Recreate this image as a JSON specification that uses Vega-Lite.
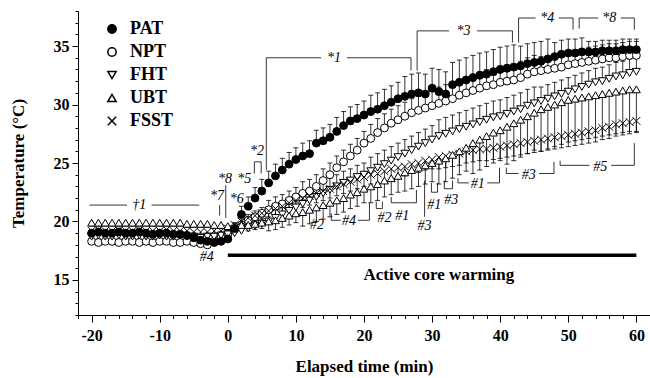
{
"$schema": "https://vega.github.io/schema/vega-lite/v6.json",
"width": 572, "height": 304,
"autosize": "none",
"padding": {"left": 78, "top": 11, "right": 0, "bottom": 63},
"background": "white",
"config": {"view": {"stroke": null}, "font": "Liberation Serif"},
"datasets": {
"m": [
{"t":-20,"s":"NPT","v":18.3,"b":18.6},{"t":-19,"s":"NPT","v":18.2,"b":18.5},{"t":-18,"s":"NPT","v":18.3,"b":18.6},{"t":-17,"s":"NPT","v":18.3,"b":18.6},{"t":-16,"s":"NPT","v":18.2,"b":18.5},{"t":-15,"s":"NPT","v":18.3,"b":18.6},{"t":-14,"s":"NPT","v":18.3,"b":18.6},{"t":-13,"s":"NPT","v":18.2,"b":18.5},{"t":-12,"s":"NPT","v":18.3,"b":18.6},{"t":-11,"s":"NPT","v":18.2,"b":18.5},{"t":-10,"s":"NPT","v":18.3,"b":18.6},{"t":-9,"s":"NPT","v":18.3,"b":18.6},{"t":-8,"s":"NPT","v":18.2,"b":18.5},{"t":-7,"s":"NPT","v":18.2,"b":18.5},{"t":-6,"s":"NPT","v":18.3,"b":18.6},{"t":-5,"s":"NPT","v":18.2,"b":18.5},{"t":-4,"s":"NPT","v":18.1,"b":18.4},{"t":-3,"s":"NPT","v":18.0,"b":18.3},{"t":-2,"s":"NPT","v":18.3,"b":18.6},{"t":-1,"s":"NPT","v":18.6,"b":18.9},{"t":0,"s":"NPT","v":18.9,"b":19.2},
{"t":1,"s":"NPT","v":19.3,"b":19.8},{"t":2,"s":"NPT","v":19.7,"b":20.2},{"t":3,"s":"NPT","v":20.1,"b":20.6},{"t":4,"s":"NPT","v":20.4,"b":20.9},{"t":5,"s":"NPT","v":20.7,"b":21.2},{"t":6,"s":"NPT","v":21.0,"b":21.8},{"t":7,"s":"NPT","v":21.3,"b":22.1},{"t":8,"s":"NPT","v":21.5,"b":22.3},{"t":9,"s":"NPT","v":21.8,"b":22.6},{"t":10,"s":"NPT","v":22.1,"b":22.9},
{"t":11,"s":"NPT","v":22.4,"b":23.4},{"t":12,"s":"NPT","v":22.6,"b":23.6},{"t":13,"s":"NPT","v":23.0,"b":24.0},{"t":14,"s":"NPT","v":23.5,"b":24.5},{"t":15,"s":"NPT","v":24.0,"b":25.0},{"t":16,"s":"NPT","v":24.6,"b":25.6},{"t":17,"s":"NPT","v":25.1,"b":26.1},{"t":18,"s":"NPT","v":25.6,"b":26.6},{"t":19,"s":"NPT","v":26.1,"b":27.1},{"t":20,"s":"NPT","v":26.7,"b":27.7},
{"t":21,"s":"NPT","v":27.1,"b":28.3},{"t":22,"s":"NPT","v":27.6,"b":28.8},{"t":23,"s":"NPT","v":28.0,"b":29.2},{"t":24,"s":"NPT","v":28.4,"b":29.6},{"t":25,"s":"NPT","v":28.7,"b":29.9},{"t":26,"s":"NPT","v":29.0,"b":30.2},{"t":27,"s":"NPT","v":29.3,"b":30.5},{"t":28,"s":"NPT","v":29.5,"b":30.7},{"t":29,"s":"NPT","v":29.7,"b":30.9},{"t":30,"s":"NPT","v":29.9,"b":31.1},
{"t":31,"s":"NPT","v":30.1,"b":31.5},{"t":32,"s":"NPT","v":30.3,"b":31.7},{"t":33,"s":"NPT","v":30.5,"b":31.9},{"t":34,"s":"NPT","v":30.8,"b":32.2},{"t":35,"s":"NPT","v":31.0,"b":32.4},{"t":36,"s":"NPT","v":31.2,"b":32.6},{"t":37,"s":"NPT","v":31.4,"b":32.8},{"t":38,"s":"NPT","v":31.6,"b":33.0},{"t":39,"s":"NPT","v":31.7,"b":33.1},{"t":40,"s":"NPT","v":31.9,"b":33.3},
{"t":41,"s":"NPT","v":32.0,"b":33.4},{"t":42,"s":"NPT","v":32.1,"b":33.5},{"t":43,"s":"NPT","v":32.3,"b":33.7},{"t":44,"s":"NPT","v":32.6,"b":34.0},{"t":45,"s":"NPT","v":32.8,"b":34.2},{"t":46,"s":"NPT","v":32.9,"b":34.1},{"t":47,"s":"NPT","v":33.0,"b":34.2},{"t":48,"s":"NPT","v":33.1,"b":34.3},{"t":49,"s":"NPT","v":33.2,"b":34.4},{"t":50,"s":"NPT","v":33.4,"b":34.6},
{"t":51,"s":"NPT","v":33.5,"b":34.7},{"t":52,"s":"NPT","v":33.6,"b":34.8},{"t":53,"s":"NPT","v":33.7,"b":34.9},{"t":54,"s":"NPT","v":33.8,"b":35.0},{"t":55,"s":"NPT","v":33.9,"b":35.1},{"t":56,"s":"NPT","v":34.0,"b":35.2},{"t":57,"s":"NPT","v":34.0,"b":35.2},{"t":58,"s":"NPT","v":34.1,"b":35.3},{"t":59,"s":"NPT","v":34.2,"b":35.4},{"t":60,"s":"NPT","v":34.2,"b":35.4},

{"t":-20,"s":"FHT","v":18.7,"b":19.0},{"t":-19,"s":"FHT","v":18.8,"b":19.1},{"t":-18,"s":"FHT","v":18.7,"b":19.0},{"t":-17,"s":"FHT","v":18.7,"b":19.0},{"t":-16,"s":"FHT","v":18.8,"b":19.1},{"t":-15,"s":"FHT","v":18.7,"b":19.0},{"t":-14,"s":"FHT","v":18.7,"b":19.0},{"t":-13,"s":"FHT","v":18.8,"b":19.1},{"t":-12,"s":"FHT","v":18.7,"b":19.0},{"t":-11,"s":"FHT","v":18.7,"b":19.0},{"t":-10,"s":"FHT","v":18.8,"b":19.1},{"t":-9,"s":"FHT","v":18.7,"b":19.0},{"t":-8,"s":"FHT","v":18.7,"b":19.0},{"t":-7,"s":"FHT","v":18.8,"b":19.1},{"t":-6,"s":"FHT","v":18.7,"b":19.0},{"t":-5,"s":"FHT","v":18.7,"b":19.0},{"t":-4,"s":"FHT","v":18.6,"b":18.9},{"t":-3,"s":"FHT","v":18.7,"b":19.0},{"t":-2,"s":"FHT","v":18.7,"b":19.0},{"t":-1,"s":"FHT","v":18.8,"b":19.1},{"t":0,"s":"FHT","v":18.9,"b":19.2},
{"t":1,"s":"FHT","v":19.0,"b":19.5},{"t":2,"s":"FHT","v":19.2,"b":19.7},{"t":3,"s":"FHT","v":19.4,"b":19.9},{"t":4,"s":"FHT","v":19.6,"b":20.1},{"t":5,"s":"FHT","v":19.8,"b":20.3},{"t":6,"s":"FHT","v":20.0,"b":20.8},{"t":7,"s":"FHT","v":20.3,"b":21.1},{"t":8,"s":"FHT","v":20.6,"b":21.4},{"t":9,"s":"FHT","v":20.9,"b":21.7},{"t":10,"s":"FHT","v":21.2,"b":22.0},
{"t":11,"s":"FHT","v":21.5,"b":22.5},{"t":12,"s":"FHT","v":21.8,"b":22.8},{"t":13,"s":"FHT","v":22.1,"b":23.1},{"t":14,"s":"FHT","v":22.4,"b":23.4},{"t":15,"s":"FHT","v":22.7,"b":23.7},{"t":16,"s":"FHT","v":23.0,"b":24.0},{"t":17,"s":"FHT","v":23.3,"b":24.3},{"t":18,"s":"FHT","v":23.5,"b":24.5},{"t":19,"s":"FHT","v":23.8,"b":24.8},{"t":20,"s":"FHT","v":24.0,"b":25.0},
{"t":21,"s":"FHT","v":24.3,"b":25.5},{"t":22,"s":"FHT","v":24.6,"b":25.8},{"t":23,"s":"FHT","v":24.9,"b":26.1},{"t":24,"s":"FHT","v":25.2,"b":26.4},{"t":25,"s":"FHT","v":25.5,"b":26.7},{"t":26,"s":"FHT","v":25.8,"b":27.0},{"t":27,"s":"FHT","v":26.1,"b":27.3},{"t":28,"s":"FHT","v":26.4,"b":27.6},{"t":29,"s":"FHT","v":26.7,"b":27.9},{"t":30,"s":"FHT","v":27.0,"b":28.2},
{"t":31,"s":"FHT","v":27.3,"b":28.7},{"t":32,"s":"FHT","v":27.5,"b":28.9},{"t":33,"s":"FHT","v":27.7,"b":29.1},{"t":34,"s":"FHT","v":27.9,"b":29.3},{"t":35,"s":"FHT","v":28.1,"b":29.5},{"t":36,"s":"FHT","v":28.3,"b":29.7},{"t":37,"s":"FHT","v":28.5,"b":29.9},{"t":38,"s":"FHT","v":28.7,"b":30.1},{"t":39,"s":"FHT","v":28.9,"b":30.3},{"t":40,"s":"FHT","v":29.0,"b":30.4},
{"t":41,"s":"FHT","v":29.2,"b":30.6},{"t":42,"s":"FHT","v":29.4,"b":30.8},{"t":43,"s":"FHT","v":29.6,"b":31.0},{"t":44,"s":"FHT","v":29.9,"b":31.3},{"t":45,"s":"FHT","v":30.1,"b":31.5},{"t":46,"s":"FHT","v":30.3,"b":31.5},{"t":47,"s":"FHT","v":30.5,"b":31.7},{"t":48,"s":"FHT","v":30.7,"b":31.9},{"t":49,"s":"FHT","v":30.9,"b":32.1},{"t":50,"s":"FHT","v":31.1,"b":32.3},
{"t":51,"s":"FHT","v":31.3,"b":32.5},{"t":52,"s":"FHT","v":31.5,"b":32.7},{"t":53,"s":"FHT","v":31.7,"b":32.9},{"t":54,"s":"FHT","v":31.9,"b":33.1},{"t":55,"s":"FHT","v":32.0,"b":33.2},{"t":56,"s":"FHT","v":32.2,"b":33.4},{"t":57,"s":"FHT","v":32.4,"b":33.6},{"t":58,"s":"FHT","v":32.5,"b":33.7},{"t":59,"s":"FHT","v":32.7,"b":33.9},{"t":60,"s":"FHT","v":32.8,"b":34.0},

{"t":-20,"s":"FSST","v":19.2,"b":18.9},{"t":-19,"s":"FSST","v":19.3,"b":19.0},{"t":-18,"s":"FSST","v":19.2,"b":18.9},{"t":-17,"s":"FSST","v":19.2,"b":18.9},{"t":-16,"s":"FSST","v":19.3,"b":19.0},{"t":-15,"s":"FSST","v":19.2,"b":18.9},{"t":-14,"s":"FSST","v":19.2,"b":18.9},{"t":-13,"s":"FSST","v":19.3,"b":19.0},{"t":-12,"s":"FSST","v":19.2,"b":18.9},{"t":-11,"s":"FSST","v":19.2,"b":18.9},{"t":-10,"s":"FSST","v":19.2,"b":18.9},{"t":-9,"s":"FSST","v":19.3,"b":19.0},{"t":-8,"s":"FSST","v":19.2,"b":18.9},{"t":-7,"s":"FSST","v":19.2,"b":18.9},{"t":-6,"s":"FSST","v":19.2,"b":18.9},{"t":-5,"s":"FSST","v":19.1,"b":18.8},{"t":-4,"s":"FSST","v":19.1,"b":18.8},{"t":-3,"s":"FSST","v":19.1,"b":18.8},{"t":-2,"s":"FSST","v":19.2,"b":18.9},{"t":-1,"s":"FSST","v":19.2,"b":18.9},{"t":0,"s":"FSST","v":19.4,"b":19.1},
{"t":1,"s":"FSST","v":19.7,"b":19.2},{"t":2,"s":"FSST","v":20.0,"b":19.5},{"t":3,"s":"FSST","v":20.3,"b":19.8},{"t":4,"s":"FSST","v":20.5,"b":20.0},{"t":5,"s":"FSST","v":20.7,"b":20.2},{"t":6,"s":"FSST","v":20.9,"b":20.4},{"t":7,"s":"FSST","v":21.1,"b":20.6},{"t":8,"s":"FSST","v":21.3,"b":20.8},{"t":9,"s":"FSST","v":21.6,"b":21.1},{"t":10,"s":"FSST","v":21.8,"b":21.3},
{"t":11,"s":"FSST","v":22.0,"b":21.2},{"t":12,"s":"FSST","v":22.2,"b":21.4},{"t":13,"s":"FSST","v":22.4,"b":21.6},{"t":14,"s":"FSST","v":22.6,"b":21.8},{"t":15,"s":"FSST","v":22.8,"b":22.0},{"t":16,"s":"FSST","v":23.0,"b":22.2},{"t":17,"s":"FSST","v":23.2,"b":22.4},{"t":18,"s":"FSST","v":23.4,"b":22.6},{"t":19,"s":"FSST","v":23.6,"b":22.8},{"t":20,"s":"FSST","v":23.8,"b":23.0},
{"t":21,"s":"FSST","v":24.0,"b":23.2},{"t":22,"s":"FSST","v":24.1,"b":23.3},{"t":23,"s":"FSST","v":24.3,"b":23.5},{"t":24,"s":"FSST","v":24.5,"b":23.7},{"t":25,"s":"FSST","v":24.6,"b":23.8},{"t":26,"s":"FSST","v":24.7,"b":23.9},{"t":27,"s":"FSST","v":24.9,"b":24.1},{"t":28,"s":"FSST","v":25.0,"b":24.2},{"t":29,"s":"FSST","v":25.2,"b":24.4},{"t":30,"s":"FSST","v":25.3,"b":24.5},
{"t":31,"s":"FSST","v":25.5,"b":24.5},{"t":32,"s":"FSST","v":25.6,"b":24.6},{"t":33,"s":"FSST","v":25.7,"b":24.7},{"t":34,"s":"FSST","v":25.8,"b":24.8},{"t":35,"s":"FSST","v":26.0,"b":25.0},{"t":36,"s":"FSST","v":26.1,"b":25.1},{"t":37,"s":"FSST","v":26.2,"b":25.2},{"t":38,"s":"FSST","v":26.2,"b":25.2},{"t":39,"s":"FSST","v":26.3,"b":25.3},{"t":40,"s":"FSST","v":26.4,"b":25.4},
{"t":41,"s":"FSST","v":26.5,"b":25.5},{"t":42,"s":"FSST","v":26.6,"b":25.6},{"t":43,"s":"FSST","v":26.7,"b":25.7},{"t":44,"s":"FSST","v":26.8,"b":25.8},{"t":45,"s":"FSST","v":26.9,"b":25.9},{"t":46,"s":"FSST","v":27.0,"b":26.0},{"t":47,"s":"FSST","v":27.1,"b":26.1},{"t":48,"s":"FSST","v":27.2,"b":26.2},{"t":49,"s":"FSST","v":27.3,"b":26.3},{"t":50,"s":"FSST","v":27.4,"b":26.4},
{"t":51,"s":"FSST","v":27.5,"b":26.5},{"t":52,"s":"FSST","v":27.6,"b":26.6},{"t":53,"s":"FSST","v":27.7,"b":26.7},{"t":54,"s":"FSST","v":27.8,"b":26.8},{"t":55,"s":"FSST","v":28.0,"b":27.0},{"t":56,"s":"FSST","v":28.1,"b":27.1},{"t":57,"s":"FSST","v":28.3,"b":27.3},{"t":58,"s":"FSST","v":28.4,"b":27.4},{"t":59,"s":"FSST","v":28.5,"b":27.5},{"t":60,"s":"FSST","v":28.6,"b":27.6},

{"t":-20,"s":"UBT","v":19.9,"b":19.6},{"t":-19,"s":"UBT","v":19.9,"b":19.6},{"t":-18,"s":"UBT","v":19.9,"b":19.6},{"t":-17,"s":"UBT","v":19.9,"b":19.6},{"t":-16,"s":"UBT","v":19.9,"b":19.6},{"t":-15,"s":"UBT","v":19.9,"b":19.6},{"t":-14,"s":"UBT","v":19.9,"b":19.6},{"t":-13,"s":"UBT","v":19.9,"b":19.6},{"t":-12,"s":"UBT","v":19.9,"b":19.6},{"t":-11,"s":"UBT","v":19.9,"b":19.6},{"t":-10,"s":"UBT","v":19.9,"b":19.6},{"t":-9,"s":"UBT","v":19.9,"b":19.6},{"t":-8,"s":"UBT","v":19.9,"b":19.6},{"t":-7,"s":"UBT","v":19.9,"b":19.6},{"t":-6,"s":"UBT","v":19.8,"b":19.5},{"t":-5,"s":"UBT","v":19.8,"b":19.5},{"t":-4,"s":"UBT","v":19.8,"b":19.5},{"t":-3,"s":"UBT","v":19.8,"b":19.5},{"t":-2,"s":"UBT","v":19.7,"b":19.4},{"t":-1,"s":"UBT","v":19.7,"b":19.4},{"t":0,"s":"UBT","v":19.6,"b":19.3},
{"t":1,"s":"UBT","v":19.6,"b":19.1},{"t":2,"s":"UBT","v":19.7,"b":19.2},{"t":3,"s":"UBT","v":19.7,"b":19.2},{"t":4,"s":"UBT","v":19.8,"b":19.3},{"t":5,"s":"UBT","v":19.9,"b":19.4},{"t":6,"s":"UBT","v":20.0,"b":19.2},{"t":7,"s":"UBT","v":20.1,"b":19.3},{"t":8,"s":"UBT","v":20.3,"b":19.5},{"t":9,"s":"UBT","v":20.5,"b":19.7},{"t":10,"s":"UBT","v":20.7,"b":19.9},
{"t":11,"s":"UBT","v":20.8,"b":19.6},{"t":12,"s":"UBT","v":21.0,"b":19.8},{"t":13,"s":"UBT","v":21.2,"b":20.0},{"t":14,"s":"UBT","v":21.4,"b":20.2},{"t":15,"s":"UBT","v":21.6,"b":20.4},{"t":16,"s":"UBT","v":21.8,"b":20.6},{"t":17,"s":"UBT","v":22.0,"b":20.8},{"t":18,"s":"UBT","v":22.3,"b":21.1},{"t":19,"s":"UBT","v":22.5,"b":21.3},{"t":20,"s":"UBT","v":22.8,"b":21.6},
{"t":21,"s":"UBT","v":23.0,"b":21.6},{"t":22,"s":"UBT","v":23.2,"b":21.8},{"t":23,"s":"UBT","v":23.5,"b":22.1},{"t":24,"s":"UBT","v":23.7,"b":22.3},{"t":25,"s":"UBT","v":23.9,"b":22.5},{"t":26,"s":"UBT","v":24.2,"b":22.6},{"t":27,"s":"UBT","v":24.4,"b":22.8},{"t":28,"s":"UBT","v":24.6,"b":23.0},{"t":29,"s":"UBT","v":24.8,"b":23.2},{"t":30,"s":"UBT","v":25.0,"b":23.4},
{"t":31,"s":"UBT","v":25.2,"b":23.2},{"t":32,"s":"UBT","v":25.4,"b":23.4},{"t":33,"s":"UBT","v":25.7,"b":23.7},{"t":34,"s":"UBT","v":26.0,"b":24.0},{"t":35,"s":"UBT","v":26.3,"b":24.3},{"t":36,"s":"UBT","v":26.7,"b":24.1},{"t":37,"s":"UBT","v":27.0,"b":24.4},{"t":38,"s":"UBT","v":27.3,"b":24.7},{"t":39,"s":"UBT","v":27.6,"b":25.0},{"t":40,"s":"UBT","v":27.8,"b":25.2},
{"t":41,"s":"UBT","v":28.1,"b":24.9},{"t":42,"s":"UBT","v":28.4,"b":25.2},{"t":43,"s":"UBT","v":28.7,"b":25.5},{"t":44,"s":"UBT","v":29.0,"b":25.8},{"t":45,"s":"UBT","v":29.3,"b":26.1},{"t":46,"s":"UBT","v":29.6,"b":26.0},{"t":47,"s":"UBT","v":29.8,"b":26.2},{"t":48,"s":"UBT","v":30.0,"b":26.4},{"t":49,"s":"UBT","v":30.2,"b":26.6},{"t":50,"s":"UBT","v":30.4,"b":26.8},
{"t":51,"s":"UBT","v":30.5,"b":26.9},{"t":52,"s":"UBT","v":30.6,"b":27.0},{"t":53,"s":"UBT","v":30.7,"b":27.1},{"t":54,"s":"UBT","v":30.8,"b":27.2},{"t":55,"s":"UBT","v":30.9,"b":27.3},{"t":56,"s":"UBT","v":31.0,"b":27.4},{"t":57,"s":"UBT","v":31.1,"b":27.5},{"t":58,"s":"UBT","v":31.2,"b":27.6},{"t":59,"s":"UBT","v":31.3,"b":27.7},{"t":60,"s":"UBT","v":31.3,"b":27.7},

{"t":-20,"s":"PAT","v":19.0,"b":19.3},{"t":-19,"s":"PAT","v":19.1,"b":19.4},{"t":-18,"s":"PAT","v":19.0,"b":19.3},{"t":-17,"s":"PAT","v":19.0,"b":19.3},{"t":-16,"s":"PAT","v":19.1,"b":19.4},{"t":-15,"s":"PAT","v":19.0,"b":19.3},{"t":-14,"s":"PAT","v":19.0,"b":19.3},{"t":-13,"s":"PAT","v":19.1,"b":19.4},{"t":-12,"s":"PAT","v":19.0,"b":19.3},{"t":-11,"s":"PAT","v":18.9,"b":19.2},{"t":-10,"s":"PAT","v":19.0,"b":19.3},{"t":-9,"s":"PAT","v":19.0,"b":19.3},{"t":-8,"s":"PAT","v":18.9,"b":19.2},{"t":-7,"s":"PAT","v":18.9,"b":19.2},{"t":-6,"s":"PAT","v":18.8,"b":19.1},{"t":-5,"s":"PAT","v":18.6,"b":19.0},{"t":-4,"s":"PAT","v":18.4,"b":18.8},{"t":-3,"s":"PAT","v":18.3,"b":18.7},{"t":-2,"s":"PAT","v":18.2,"b":18.6},{"t":-1,"s":"PAT","v":18.3,"b":18.7},{"t":0,"s":"PAT","v":18.5,"b":18.9},
{"t":1,"s":"PAT","v":19.4,"b":19.9},{"t":2,"s":"PAT","v":20.6,"b":21.3},{"t":3,"s":"PAT","v":21.3,"b":22.1},{"t":4,"s":"PAT","v":22.0,"b":22.9},{"t":5,"s":"PAT","v":22.6,"b":23.6},{"t":6,"s":"PAT","v":23.3,"b":24.3},{"t":7,"s":"PAT","v":23.9,"b":24.9},{"t":8,"s":"PAT","v":24.4,"b":25.4},{"t":9,"s":"PAT","v":24.9,"b":25.9},{"t":10,"s":"PAT","v":25.3,"b":26.3},
{"t":11,"s":"PAT","v":25.6,"b":26.7},{"t":12,"s":"PAT","v":25.8,"b":26.9},{"t":13,"s":"PAT","v":26.7,"b":27.8},{"t":14,"s":"PAT","v":26.9,"b":28.0},{"t":15,"s":"PAT","v":27.2,"b":28.3},{"t":16,"s":"PAT","v":27.7,"b":28.9},{"t":17,"s":"PAT","v":28.2,"b":29.4},{"t":18,"s":"PAT","v":28.6,"b":29.8},{"t":19,"s":"PAT","v":28.8,"b":30.0},{"t":20,"s":"PAT","v":29.1,"b":30.3},
{"t":21,"s":"PAT","v":29.4,"b":30.8},{"t":22,"s":"PAT","v":29.6,"b":31.0},{"t":23,"s":"PAT","v":29.9,"b":31.3},{"t":24,"s":"PAT","v":30.2,"b":31.6},{"t":25,"s":"PAT","v":30.5,"b":31.9},{"t":26,"s":"PAT","v":30.7,"b":32.4},{"t":27,"s":"PAT","v":30.9,"b":32.6},{"t":28,"s":"PAT","v":31.0,"b":32.7},{"t":29,"s":"PAT","v":30.9,"b":32.6},{"t":30,"s":"PAT","v":31.4,"b":33.1},
{"t":31,"s":"PAT","v":31.1,"b":33.0},{"t":32,"s":"PAT","v":30.9,"b":32.8},{"t":33,"s":"PAT","v":31.7,"b":33.6},{"t":34,"s":"PAT","v":31.9,"b":33.8},{"t":35,"s":"PAT","v":32.1,"b":34.0},{"t":36,"s":"PAT","v":32.3,"b":34.2},{"t":37,"s":"PAT","v":32.5,"b":34.4},{"t":38,"s":"PAT","v":32.6,"b":34.5},{"t":39,"s":"PAT","v":32.8,"b":34.7},{"t":40,"s":"PAT","v":33.0,"b":34.9},
{"t":41,"s":"PAT","v":33.1,"b":35.0},{"t":42,"s":"PAT","v":33.2,"b":35.1},{"t":43,"s":"PAT","v":33.3,"b":35.0},{"t":44,"s":"PAT","v":33.5,"b":35.2},{"t":45,"s":"PAT","v":33.6,"b":35.3},{"t":46,"s":"PAT","v":33.7,"b":35.4},{"t":47,"s":"PAT","v":33.9,"b":35.6},{"t":48,"s":"PAT","v":34.1,"b":35.3},{"t":49,"s":"PAT","v":34.3,"b":35.5},{"t":50,"s":"PAT","v":34.4,"b":35.6},
{"t":51,"s":"PAT","v":34.4,"b":35.6},{"t":52,"s":"PAT","v":34.5,"b":35.7},{"t":53,"s":"PAT","v":34.5,"b":35.4},{"t":54,"s":"PAT","v":34.5,"b":35.4},{"t":55,"s":"PAT","v":34.6,"b":35.5},{"t":56,"s":"PAT","v":34.6,"b":35.5},{"t":57,"s":"PAT","v":34.6,"b":35.5},{"t":58,"s":"PAT","v":34.7,"b":35.6},{"t":59,"s":"PAT","v":34.7,"b":35.6},{"t":60,"s":"PAT","v":34.7,"b":35.6}
],
"seg": [
{"t":-20.3,"v":21.4,"t2":-14.8,"v2":21.4},{"t":-11.2,"v":21.4,"t2":-4.2,"v2":21.4},
{"t":-1.2,"v":21.4,"t2":-1.2,"v2":20.5},
{"t":-0.3,"v":23.1,"t2":-0.3,"v2":20.3},
{"t":3.9,"v":24.1,"t2":3.9,"v2":25.1},{"t":3.9,"v":25.1,"t2":4.9,"v2":25.1},{"t":4.9,"v":25.1,"t2":4.9,"v2":24.1},
{"t":5.65,"v":24.4,"t2":5.65,"v2":34.0},{"t":5.65,"v":34.0,"t2":13.7,"v2":34.0},{"t":17.5,"v":34.0,"t2":26.9,"v2":34.0},{"t":26.9,"v":34.0,"t2":26.9,"v2":32.9},
{"t":27.8,"v":32.9,"t2":27.8,"v2":36.3},{"t":27.8,"v":36.3,"t2":32.5,"v2":36.3},{"t":36.6,"v":36.3,"t2":41.8,"v2":36.3},{"t":41.8,"v":36.3,"t2":41.8,"v2":35.3},
{"t":42.7,"v":35.3,"t2":42.7,"v2":37.4},{"t":42.7,"v":37.4,"t2":45.2,"v2":37.4},{"t":48.6,"v":37.4,"t2":50.7,"v2":37.4},{"t":50.7,"v":37.4,"t2":50.7,"v2":36.4},
{"t":51.6,"v":36.5,"t2":51.6,"v2":37.4},{"t":51.6,"v":37.4,"t2":54.4,"v2":37.4},{"t":57.7,"v":37.4,"t2":59.7,"v2":37.4},{"t":59.7,"v":37.4,"t2":59.7,"v2":36.4},
{"t":15.2,"v":20.7,"t2":15.2,"v2":20.1},{"t":15.2,"v":20.1,"t2":16.6,"v2":20.1},{"t":19.1,"v":20.1,"t2":20.8,"v2":20.1},{"t":20.8,"v":20.1,"t2":20.8,"v2":21.6},
{"t":21.8,"v":21.7,"t2":21.8,"v2":21.1},{"t":21.8,"v":21.1,"t2":22.7,"v2":21.1},{"t":22.7,"v":21.1,"t2":22.7,"v2":21.7},
{"t":24.0,"v":22.1,"t2":24.0,"v2":21.6},{"t":24.0,"v":21.6,"t2":27.7,"v2":21.6},{"t":27.7,"v":21.6,"t2":27.7,"v2":22.7},
{"t":28.9,"v":23.5,"t2":28.9,"v2":20.4},
{"t":29.9,"v":23.3,"t2":29.9,"v2":22.5},{"t":29.9,"v":22.5,"t2":30.8,"v2":22.5},{"t":30.8,"v":22.5,"t2":30.8,"v2":23.3},
{"t":31.8,"v":23.5,"t2":31.8,"v2":22.8},{"t":31.8,"v":22.8,"t2":33.0,"v2":22.8},{"t":33.0,"v":22.8,"t2":33.0,"v2":23.5},
{"t":33.8,"v":23.7,"t2":33.8,"v2":23.3},{"t":33.8,"v":23.3,"t2":35.4,"v2":23.3},{"t":38.1,"v":23.3,"t2":39.9,"v2":23.3},{"t":39.9,"v":23.3,"t2":39.9,"v2":24.6},
{"t":40.9,"v":24.6,"t2":40.9,"v2":24.1},{"t":40.9,"v":24.1,"t2":42.7,"v2":24.1},{"t":45.7,"v":24.1,"t2":47.9,"v2":24.1},{"t":47.9,"v":24.1,"t2":47.9,"v2":25.1},
{"t":48.8,"v":25.2,"t2":48.8,"v2":24.8},{"t":48.8,"v":24.8,"t2":53.1,"v2":24.8},{"t":56.3,"v":24.8,"t2":59.7,"v2":24.8},{"t":59.7,"v":24.8,"t2":59.7,"v2":26.7}
],
"lab": [
{"t":-13.0,"v":21.4,"txt":"†1"},{"t":-1.6,"v":22.2,"txt":"*7"},{"t":-0.4,"v":23.6,"txt":"*8"},{"t":1.3,"v":21.9,"txt":"*6"},{"t":2.4,"v":23.6,"txt":"*5"},{"t":4.3,"v":26.0,"txt":"*2"},
{"t":15.6,"v":34.0,"txt":"*1"},{"t":34.6,"v":36.3,"txt":"*3"},{"t":46.9,"v":37.4,"txt":"*4"},{"t":56.0,"v":37.4,"txt":"*8"},
{"t":-3.1,"v":17.0,"txt":"#4"},{"t":13.1,"v":19.7,"txt":"#2"},{"t":17.8,"v":20.0,"txt":"#4"},{"t":23.0,"v":20.3,"txt":"#2"},{"t":25.6,"v":20.5,"txt":"#1"},{"t":28.9,"v":19.6,"txt":"#3"},{"t":30.3,"v":21.4,"txt":"#1"},{"t":32.8,"v":21.8,"txt":"#3"},{"t":36.7,"v":23.2,"txt":"#1"},{"t":44.2,"v":24.0,"txt":"#3"},{"t":54.7,"v":24.7,"txt":"#5"}
],
"bar": [{"t":0,"t2":60,"v":17.1}],
"act": [{"t":31,"v":15.4,"txt":"Active core warming"}]
},
"encoding": {
"x": {"field":"t","type":"quantitative","title":"Elapsed time (min)",
 "scale":{"domain":[-22,62],"nice":false,"zero":false},
 "axis":{"values":[-22,-20,-18,-16,-14,-12,-10,-8,-6,-4,-2,0,2,4,6,8,10,12,14,16,18,20,22,24,26,28,30,32,34,36,38,40,42,44,46,48,50,52,54,56,58,60,62],
  "labelExpr":"datum.value % 10 === 0 ? '' + datum.value : ''",
  "tickSize":{"condition":{"test":"datum.value % 10 === 0","value":7},"value":3.5},
  "grid":false,"labelFont":"Liberation Serif","labelFontSize":16,"labelFontWeight":"bold","labelColor":"black","labelPadding":5,"labelOverlap":false,"labelFlush":false,
  "titleFont":"Liberation Serif","titleFontSize":17,"titleFontWeight":"bold","titleColor":"black","titlePadding":15,
  "domainColor":"black","tickColor":"black","domainWidth":1,"tickWidth":1}},
"y": {"field":"v","type":"quantitative","title":"Temperature (°C)",
 "scale":{"domain":[12,38],"nice":false,"zero":false},
 "axis":{"values":[12,13,14,15,16,17,18,19,20,21,22,23,24,25,26,27,28,29,30,31,32,33,34,35,36,37,38],
  "labelExpr":"datum.value % 5 === 0 ? '' + datum.value : ''",
  "tickSize":{"condition":{"test":"datum.value % 5 === 0","value":6},"value":3},
  "grid":false,"labelFont":"Liberation Serif","labelFontSize":16,"labelFontWeight":"bold","labelColor":"black","labelPadding":3,"labelOverlap":false,"labelFlush":false,
  "titleFont":"Liberation Serif","titleFontSize":17,"titleFontWeight":"bold","titleColor":"black","titlePadding":26,
  "domainColor":"black","tickColor":"black","domainWidth":1,"tickWidth":1}}
},
"layer": [
{"data":{"name":"m"},"mark":{"type":"rule","color":"black","strokeWidth":0.8},
 "encoding":{"y2":{"field":"b"}}},
{"data":{"name":"m"},"mark":{"type":"point","shape":"M-1,0L1,0","filled":false,"stroke":"black","strokeWidth":0.8,"size":25,"opacity":1},
 "encoding":{"y":{"field":"b","type":"quantitative","title":"Temperature (°C)","scale":{"domain":[12,38],"nice":false,"zero":false}}}},
{"data":{"name":"m"},"mark":{"type":"point","filled":true,"stroke":"black","strokeWidth":1,"size":62,"opacity":1},
 "encoding":{
  "shape":{"field":"s","type":"nominal","title":null,
   "scale":{"domain":["PAT","NPT","FHT","UBT","FSST"],"range":["circle","circle","triangle-down","triangle-up","M-1,-1L1,1M-1,1L1,-1"]},
   "legend":{"orient":"none","legendX":25,"legendY":9,"title":null,"labelFont":"Liberation Serif","labelFontSize":18,"labelFontWeight":"bold","labelColor":"black","symbolSize":70,"rowPadding":5,"labelOffset":9,
    "encode":{"symbols":{"update":{"stroke":{"value":"black"},"strokeWidth":{"value":1}}}}}},
  "fill":{"field":"s","type":"nominal","title":null,
   "scale":{"domain":["PAT","NPT","FHT","UBT","FSST"],"range":["black","white","white","white","white"]},
   "legend":{"orient":"none","legendX":25,"legendY":9,"title":null,"labelFont":"Liberation Serif","labelFontSize":18,"labelFontWeight":"bold","labelColor":"black","symbolSize":70,"rowPadding":5,"labelOffset":9,
    "encode":{"symbols":{"update":{"stroke":{"value":"black"},"strokeWidth":{"value":1}}}}}}
 }},
{"data":{"name":"seg"},"mark":{"type":"rule","color":"black","strokeWidth":0.8},
 "encoding":{"x2":{"field":"t2"},"y2":{"field":"v2"}}},
{"data":{"name":"bar"},"mark":{"type":"rule","color":"black","strokeWidth":3.5},
 "encoding":{"x2":{"field":"t2"}}},
{"data":{"name":"lab"},"mark":{"type":"text","font":"Liberation Serif","fontSize":14,"fontStyle":"italic","color":"black","baseline":"middle","align":"center"},
 "encoding":{"text":{"field":"txt"}}},
{"data":{"name":"act"},"mark":{"type":"text","font":"Liberation Serif","fontSize":17,"fontWeight":"bold","color":"black","baseline":"middle","align":"center"},
 "encoding":{"text":{"field":"txt"}}}
]
}
